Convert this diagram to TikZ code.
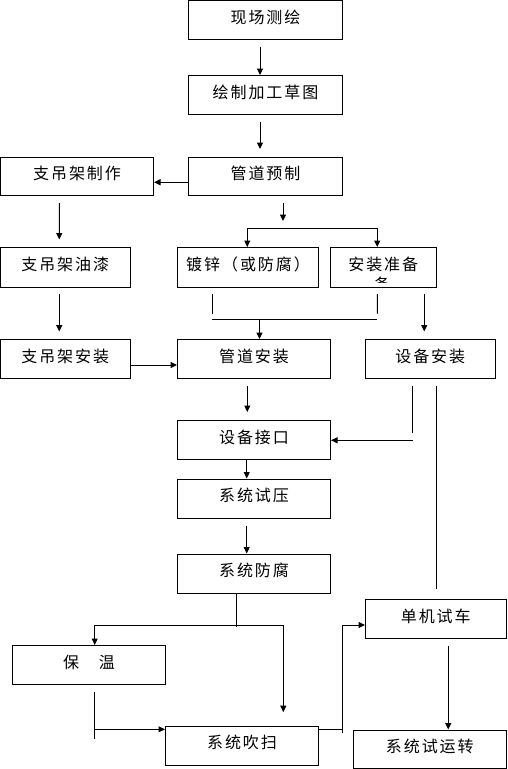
\documentclass[tikz,border=0pt]{standalone}
\usepackage{fontspec}
\newfontfamily\cjk[LetterSpace=12]{Noto Sans CJK SC}
\usetikzlibrary{arrows.meta}

\tikzset{
  box/.style={draw, line width=1pt, inner sep=0pt, text height=12pt, text depth=6pt,
    font=\cjk\fontsize{16}{18}\selectfont},
  arr/.style={line width=1pt, -{Triangle[width=6pt,length=6.5pt]}},
  ln/.style={line width=1pt},
}

\begin{document}
\begin{tikzpicture}[x=1pt, y=-1pt]
    \useasboundingbox (0,0) rectangle (507,769);

    % --- colonna centrale: preparazione ---
    \node[box, minimum width=154pt, minimum height=39pt] (survey) at (265.5,20) {现场测绘};
    \node[box, minimum width=154pt, minimum height=39pt] (sketch) at (265.5,95) {绘制加工草图};
    \node[box, minimum width=154pt, minimum height=38.5pt] (prefab) at (265.5,176.25) {管道预制};

    % --- supporti a sinistra ---
    \node[box, minimum width=153pt, minimum height=38.5pt] (hangermake) at (77,176.25) {支吊架制作};
    \node[box, minimum width=129.5pt, minimum height=40pt] (hangerpaint) at (65.25,267.5) {支吊架油漆};
    \node[box, minimum width=129.5pt, minimum height=39pt] (hangerinst) at (65.25,359) {支吊架安装};

    % --- secondo livello ---
    \node[box, minimum width=141pt, minimum height=40pt] (galv) at (248,267.5) {镀锌（或防腐）};
    \node[box, minimum width=105.5pt, minimum height=40pt] (prep) at (383.25,267.5) {安装准备};
    \begin{scope}
        \clip (331,270) rectangle (435,282);
        \node[font=\cjk\fontsize{16}{18}\selectfont, inner sep=0pt] (prepwrap) at (382,284.5) {备};
    \end{scope}

    % --- installazione ---
    \node[box, minimum width=153pt, minimum height=39pt] (pipeinst) at (254,359) {管道安装};
    \node[box, minimum width=129.5pt, minimum height=39pt] (equipinst) at (430.25,359) {设备安装};
    \node[box, minimum width=153pt, minimum height=39pt] (iface) at (254,440) {设备接口};
    \node[box, minimum width=153pt, minimum height=39pt] (pressure) at (254,498.5) {系统试压};
    \node[box, minimum width=153pt, minimum height=39.5pt] (anticorr) at (254,573.75) {系统防腐};

    % --- parte finale ---
    \node[box, minimum width=153pt, minimum height=39pt] (insul) at (89,665) {保　温};
    \node[box, minimum width=153pt, minimum height=39pt] (purge) at (242,745.5) {系统吹扫};
    \node[box, minimum width=140.5pt, minimum height=39pt] (trial) at (435.75,619) {单机试车};
    \node[box, minimum width=152.5pt, minimum height=38.5pt] (commission) at (429.75,749.25) {系统试运转};

    % punti di giunzione
    \coordinate (fork) at (283,228.7);
    \coordinate (joinL) at (212.3,319);
    \coordinate (joinR) at (377.3,319);
    \coordinate (join) at (259.5,319);
    \coordinate (equipdrop) at (412,440.3);
    \coordinate (split) at (236.3,625.3);
    \coordinate (insuljoin) at (94.7,729.3);
    \coordinate (purgejoin) at (342.5,729.5);

    % frecce della colonna centrale
    \draw[arr] ([xshift=-5.5pt,yshift=-6.5pt]survey.south) -- ([xshift=-5.5pt]sketch.north);
    \draw[arr] ([xshift=-5.5pt,yshift=-6.5pt]sketch.south) -- ([xshift=-5.5pt,yshift=7.5pt]prefab.north);
    \draw[arr] ([yshift=-6pt]prefab.west) -- ([yshift=-6pt]hangermake.east);

    % supporti
    \draw[arr] ([xshift=-17.7pt,yshift=-7pt]hangermake.south) -- ([xshift=-6pt,yshift=7.5pt]hangerpaint.north);
    \draw[arr] ([xshift=-6pt,yshift=-6pt]hangerpaint.south) -- ([xshift=-6pt,yshift=7.5pt]hangerinst.north);
    \draw[arr] ([yshift=-6pt]hangerinst.east) -- ([yshift=-6pt]pipeinst.west);

    % diramazione dopo la prefabbricazione
    \draw[arr] ([xshift=17.5pt,yshift=-7pt]prefab.south) -- ([yshift=7.7pt]fork);
    \draw[arr] (fork) -| ([xshift=-0.7pt]galv.north);
    \draw[arr] (fork) -| ([xshift=-6pt]prep.north);

    % ricongiungimento verso il montaggio tubi
    \draw[ln] ([xshift=-35.7pt,yshift=-6pt]galv.south) -- ([yshift=5.5pt]joinL);
    \draw[ln] ([xshift=-6pt,yshift=-6pt]prep.south) -- ([yshift=5.5pt]joinR);
    \draw[ln] (joinL) -- (joinR);
    \draw[arr] (join) -- (pipeinst.north -| join);
    \draw[arr] ([xshift=41pt,yshift=-6pt]prep.south) -- ([xshift=-6pt,yshift=7.5pt]equipinst.north);

    % montaggio e prove
    \draw[arr] ([xshift=-6.7pt,yshift=-6.5pt]pipeinst.south) -- ([xshift=-6.7pt,yshift=8pt]iface.north);
    \draw[ln] ([xshift=-18.25pt,yshift=-6.5pt]equipinst.south) -- ([yshift=7pt]equipdrop);
    \draw[arr] ([xshift=0.7pt]equipdrop) -- (equipdrop -| iface.east);
    \draw[ln] ([xshift=5.75pt,yshift=-6.5pt]equipinst.south) -- ([xshift=0.25pt,yshift=10pt]trial.north);
    \draw[arr] ([xshift=-7.3pt]iface.south) -- ([xshift=-7.3pt]pressure.north);
    \draw[arr] ([xshift=-7.3pt,yshift=-7pt]pressure.south) -- ([xshift=-7.3pt]anticorr.north);

    % isolamento e soffiaggio
    \draw[ln] ([xshift=-17.7pt]anticorr.south) -- ([yshift=-2pt]split);
    \draw[arr] (split) -| ([xshift=5.7pt]insul.north);
    \draw[arr] (split) -| ([xshift=41.3pt,yshift=13.3pt]purge.north);
    \draw[ln] ([xshift=5.7pt,yshift=-6.5pt]insul.south) -- ([yshift=-10pt]insuljoin);
    \draw[arr] (insuljoin) -- (insuljoin -| purge.west);

    % prove finali
    \draw[ln] (purgejoin -| purge.east) -- (purgejoin);
    \draw[arr] ([yshift=-3pt]purgejoin) |- ([yshift=-6pt]trial.west);
    \draw[arr] ([xshift=12.5pt,yshift=-7pt]trial.south) -- ([xshift=18.5pt]commission.north);
\end{tikzpicture}
\end{document}
